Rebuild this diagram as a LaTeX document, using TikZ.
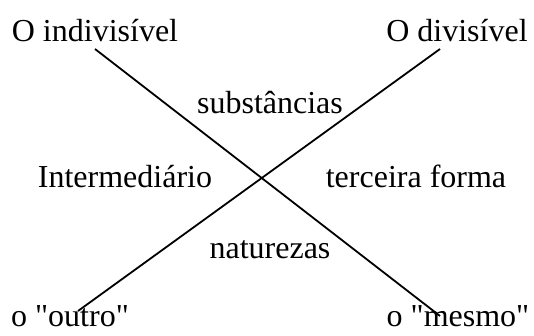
\documentclass[tikz,border=0pt]{standalone}
\usepackage{fontspec}
\setmainfont{Liberation Serif}
\begin{document}
\begin{tikzpicture}
[ x=1pt, y=-1pt, line width=1.8pt
, point/.style={coordinate}
, term/.style={anchor=base, inner sep=0pt, font=\fontsize{32}{38}\selectfont}
, cross/.style={draw, line cap=butt}
]
\useasboundingbox (0,0) rectangle (534,336);
% Corners:
\node (indiv) [term] at (95,42) {O indivisível};
\node (div) [term] at (457,42) {O divisível};
\node (outro) [term] at (70,326) {o \textquotedbl outro\textquotedbl};
\node (mesmo) [term] at (458,326) {o \textquotedbl mesmo\textquotedbl};
% Between the lines:
\node (subst) [term] at (270,114) {substâncias};
\node (interm) [term] at (125,188) {Intermediário};
\node (terc) [term] at (416,188) {terceira forma};
\node (natur) [term] at (270,258) {naturezas};
% Ends of the lines:
\node (p1) [point] at (95,49) {};
\node (p2) [point] at (440,316) {};
\node (p3) [point] at (440,49) {};
\node (p4) [point] at (78,311) {};
\draw [cross] (p1) -- (p2);
\draw [cross] (p3) -- (p4);
\end{tikzpicture}
\end{document}
